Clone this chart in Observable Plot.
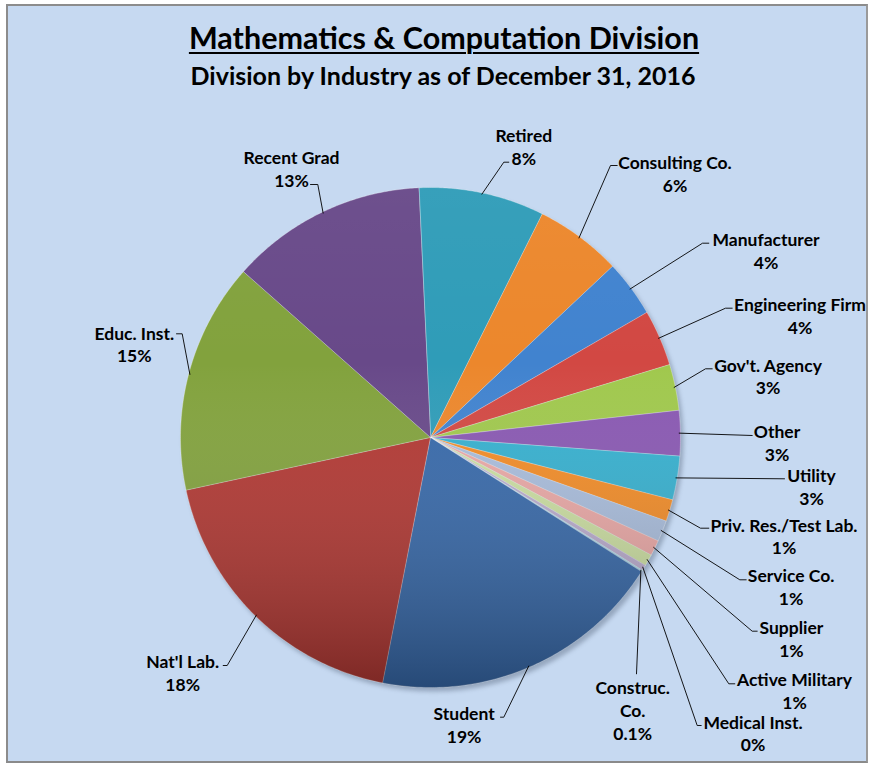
<!DOCTYPE html>
<html>
<head>
<meta charset="utf-8">
<script src="https://cdn.jsdelivr.net/npm/d3@7"></script>
<script src="https://cdn.jsdelivr.net/npm/@observablehq/plot@0.6"></script>
<style>
  html, body { margin: 0; padding: 0; background: #ffffff; }
  body { width: 872px; height: 766px; position: relative; overflow: hidden; font-family: Lato, "Open Sans", sans-serif; }
  #frame { position: absolute; left: 6px; top: 4px; width: 862px; height: 759px; background: #C6D9F1; border: 2px solid #8c8c8c; border-right-color: #9a9a9a; border-bottom-color: #8a8a8a; box-sizing: border-box; }
  #title { position: absolute; left: 0; width: 888px; top: 19px; text-align: center; font-weight: 700; font-size: 30.5px; line-height: 36px; }
  #title span { text-decoration: underline; text-decoration-thickness: 2px; text-underline-offset: 3px; }
  #subtitle { position: absolute; left: 0; width: 886px; top: 59px; text-align: center; font-weight: 700; font-size: 25px; line-height: 32px; }
  #chart { position: absolute; left: 0; top: 100px; }
</style>
</head>
<body>
<div id="frame"></div>
<div id="title"><span>Mathematics &amp; Computation Division</span></div>
<div id="subtitle">Division by Industry as of December 31, 2016</div>
<div id="chart"></div>
<script>
// ---- data (clockwise from the top) ----
const categories = ["Retired", "Consulting Co.", "Manufacturer", "Engineering Firm", "Gov't. Agency", "Other", "Utility",
  "Priv. Res./Test Lab.", "Service Co.", "Supplier", "Active Military", "Medical Inst.", "Construc. Co.",
  "Student", "Nat'l Lab.", "Educ. Inst.", "Recent Grad"];
const shares = [8.06, 5.56, 3.64, 3.6, 2.95, 2.9, 2.8, 1.4, 1.35, 1.0, 0.75, 0.36, 0.1, 18.9, 18.4, 14.8, 12.6];
const pctLabels = ["8%", "6%", "4%", "4%", "3%", "3%", "3%", "1%", "1%", "1%", "1%", "0%", "0.1%", "19%", "18%", "15%", "13%"];

// ---- styles ----
const sliceColors = ["#2F9CB8", "#EC872C", "#4183CF", "#D24843", "#A0C84D", "#8958B2", "#36B0CF",
  "#F28C27", "#A9BDDC", "#EAA8A6", "#CCDFA2", "#BAACCE", "#9FD6E6",
  "#3769AA", "#B23833", "#82A23D", "#684989"];
const labelText = {"Construc. Co.": "Construc.\nCo."};
const SHADE_KEY = "#010203", SHADOW_KEY = "#3b4a61";

// ---- layout (page pixels) ----
const W = 872, TOP = 100, H = 666, CXp = 430, CYp = 437, R = 250, START = -2.7;
const labelCenter = [[523.3, 146], [674.5, 172.5], [765.5, 250], [799.5, 315], [767.5, 375.3], [776.5, 442], [811, 485.5],
  [783.5, 535.3], [790.6, 585.8], [790.9, 637.5], [794, 690], [752.6, 732.3], [632.2, 709.2],
  [463.6, 723.8], [182.2, 672], [133.8, 343.3], [291, 167.7]];
const leaderFrom = [
  [[508.3, 161.7], [503.3, 161.7]], [[616.7, 165], [610, 165]], [[708.3, 242.7], [702, 242.7]],
  [[731.7, 307.7], [725, 307.7]], [[711.7, 368.3], [705, 368.3]], [[751.7, 435]], [[784, 478.3]],
  [[708.3, 527.7], [700, 527.7]], [[745.7, 579.3], [739.3, 579.3]], [[756.7, 630.7], [751.7, 630.7]],
  [[734.3, 683.3], [728.3, 683.3]], [[700.7, 725], [696.7, 725]], [[636, 673.3]],
  [[500, 716.7], [503.3, 716.7]], [[222.7, 665], [226.7, 665]], [[176, 333.3], [181.7, 333.3]], [[310, 184], [317.3, 184]]];

const ux = px => (px - CXp) / R;
const uy = py => (CYp - py) / R;
const rad = d => d * Math.PI / 180;

const total = d3.sum(shares);
let acc = START;
const slices = categories.map((name, i) => {
  const a0 = acc, a1 = acc + shares[i] / total * 360;
  acc = a1;
  return {name, color: sliceColors[i], a0, a1, mid: (a0 + a1) / 2};
});

const slicePts = [];
for (const s of slices) {
  slicePts.push({name: s.name, color: s.color, x: 0, y: 0});
  const n = Math.max(2, Math.ceil((s.a1 - s.a0) / 0.5));
  for (let k = 0; k <= n; k++) {
    const a = rad(s.a0 + (s.a1 - s.a0) * k / n);
    slicePts.push({name: s.name, color: s.color, x: Math.sin(a), y: Math.cos(a)});
  }
}
const circlePts = d3.range(0, 361, 1).map(a => ({x: Math.sin(rad(a)), y: Math.cos(rad(a))}));

const leaderPts = [];
slices.forEach((s, i) => {
  for (const [px, py] of leaderFrom[i]) leaderPts.push({name: s.name, x: ux(px), y: uy(py)});
  leaderPts.push({name: s.name, x: Math.sin(rad(s.mid)) * 0.995, y: Math.cos(rad(s.mid)) * 0.995});
});

const labels = slices.map((s, i) => ({
  text: (labelText[s.name] || s.name) + "\n" + pctLabels[i],
  x: ux(labelCenter[i][0]), y: uy(labelCenter[i][1])
}));

const plot = Plot.plot({
  width: W, height: H,
  marginTop: 0, marginRight: 0, marginBottom: 0, marginLeft: 0,
  x: {domain: [ux(0), ux(W)], axis: null},
  y: {domain: [uy(TOP + H), uy(TOP)], axis: null},
  color: {type: "identity"},
  style: {background: "transparent", overflow: "visible"},
  marks: [
    Plot.line(circlePts, {x: "x", y: "y", curve: "linear-closed", fill: SHADOW_KEY, fillOpacity: 0.35, stroke: "none", dx: 3, dy: 4}),
    Plot.line(slicePts, {x: "x", y: "y", z: "name", fill: "color", stroke: "#ffffff", strokeOpacity: 0.35, strokeWidth: 0.9, curve: "linear-closed"}),
    Plot.line(circlePts, {x: "x", y: "y", curve: "linear-closed", fill: SHADE_KEY, stroke: "none"}),
    Plot.line(leaderPts, {x: "x", y: "y", z: "name", stroke: "#000000", strokeWidth: 0.9}),
    Plot.text(labels, {x: "x", y: "y", text: "text", lineAnchor: "middle", textAnchor: "middle",
      fontWeight: "bold", fontSize: 17.5, lineHeight: 1.3, fill: "#000000", fontFamily: "Lato"})
  ]
});
const NS = "http://www.w3.org/2000/svg";
const defs = document.createElementNS(NS, "defs");
const grad = document.createElementNS(NS, "linearGradient");
grad.setAttribute("id", "pieShade");
grad.setAttribute("x1", "0"); grad.setAttribute("y1", "0"); grad.setAttribute("x2", "0"); grad.setAttribute("y2", "1");
for (const [off, col, op] of [[0, "#ffffff", 0.04], [0.35, "#ffffff", 0], [1, "#000000", 0.3]]) {
  const st = document.createElementNS(NS, "stop");
  st.setAttribute("offset", off); st.setAttribute("stop-color", col); st.setAttribute("stop-opacity", op);
  grad.appendChild(st);
}
defs.appendChild(grad);
plot.insertBefore(defs, plot.firstChild);
plot.querySelectorAll("[fill]").forEach(el => {
  const f = (el.getAttribute("fill") || "").toLowerCase();
  if (f === SHADE_KEY) el.setAttribute("fill", "url(#pieShade)");
  if (f === SHADOW_KEY) el.style.filter = "blur(2px)";
});
document.getElementById("chart").appendChild(plot);
</script>
</body>
</html>
